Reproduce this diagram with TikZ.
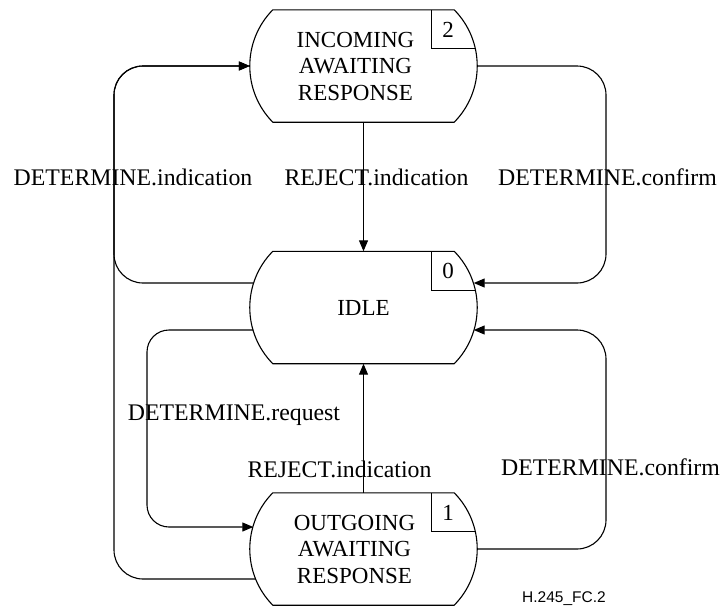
\documentclass[tikz,border=0pt]{standalone}
\usepackage{fontspec}
\setmainfont{Liberation Serif}
\newfontfamily\figfont{Liberation Sans}
\usetikzlibrary{arrows.meta,calc}
\tikzset{
  stateframe/.style={rectangle,inner sep=0pt,minimum width=227pt,minimum height=112pt},
  statetext/.style={align=center,inner sep=0pt,font=\fontsize{23}{26.5}\selectfont},
  numtext/.style={inner sep=0pt,font=\fontsize{23}{26}\selectfont},
  lbl/.style={anchor=base,inner sep=0pt,font=\fontsize{23.8}{26}\selectfont},
  shapeline/.style={line width=1.1pt},
  conn/.style={line width=1.1pt,rounded corners=29pt},
  arr/.style={-{Triangle[length=11pt,width=9pt]}}
}
\newcommand\stateoutline[1]{%
  \draw[shapeline] ($(#1.north west)+(23,0)$) -- ($(#1.north east)+(-23,0)$)
    .. controls ($(#1.north east)+(7.7,31.1)$) and ($(#1.south east)+(7.7,-31.1)$) .. ($(#1.south east)+(-23,0)$)
    -- ($(#1.south west)+(23,0)$)
    .. controls ($(#1.south west)+(-7.7,-31.1)$) and ($(#1.north west)+(-7.7,31.1)$) .. cycle;
  \draw[shapeline] ($(#1.north east)+(-46,0)$) |- ($(#1.north east)+(-1.8,39)$);
}
\begin{document}
\begin{tikzpicture}[x=1pt,y=-1pt]
\useasboundingbox (0,0) rectangle (721,608);
% states
\node[stateframe] (top) at (363.5,66) {};
\node[stateframe] (idle) at (363.5,307.5) {};
\node[stateframe] (out) at (363.5,549) {};
\stateoutline{top}
\stateoutline{idle}
\stateoutline{out}
\node[statetext] (toptext) at (355.5,66) {INCOMING\\AWAITING\\RESPONSE};
\node[statetext] (idletext) at (363.5,308) {IDLE};
\node[statetext] (outtext) at (354.5,549) {OUTGOING\\AWAITING\\RESPONSE};
\node[numtext] (topnum) at ($(top.north east)+(-29,20)$) {2};
\node[numtext] (idlenum) at ($(idle.north east)+(-29,20)$) {0};
\node[numtext] (outnum) at ($(out.north east)+(-29,20)$) {1};
% named end points on the curved sides
\coordinate (idleWu) at ($(idle.west)+(3.5,-24.5)$);
\coordinate (idleWd) at ($(idle.west)+(3.5,22.5)$);
\coordinate (idleEu) at ($(idle.east)+(-3.5,-24.5)$);
\coordinate (idleEd) at ($(idle.east)+(-3.5,22.5)$);
\coordinate (outWu) at ($(out.west)+(3.5,-22)$);
\coordinate (outWd) at ($(out.west)+(6,30)$);
\coordinate (topWm) at (top.west);
% connectors
\draw[conn,arr] (idleWu) -- (114,283) -- (114,66) -- (topWm);
\draw[conn,arr] (outWd) -- (114,579) -- (114,66) -- (topWm);
\draw[conn,arr,rounded corners=22pt] (idleWd) -- (147,330) -- (147,527) -- (outWu);
\draw[conn,arr] (top.south) -- (idle.north);
\draw[conn,arr] (out.north) -- (idle.south);
\draw[conn,arr] (top.east) -- (606,66) -- (606,283) -- (idleEu);
\draw[conn,arr] (out.east) -- (606,549) -- (606,330) -- (idleEd);
% labels
\node[lbl] (l1) at (133,185) {DETERMINE.indication};
\node[lbl] (l2) at (376.5,185) {REJECT.indication};
\node[lbl] (l3) at (607.5,185) {DETERMINE.confirm};
\node[lbl] (l4) at (234,420) {DETERMINE.request};
\node[lbl] (l5) at (339.5,477) {REJECT.indication};
\node[lbl] (l6) at (610.5,475) {DETERMINE.confirm};
\node[anchor=base,inner sep=0pt,font=\figfont\fontsize{15.5}{18}\selectfont] (fig) at (564,602) {H.245\_FC.2};
\end{tikzpicture}
\end{document}
